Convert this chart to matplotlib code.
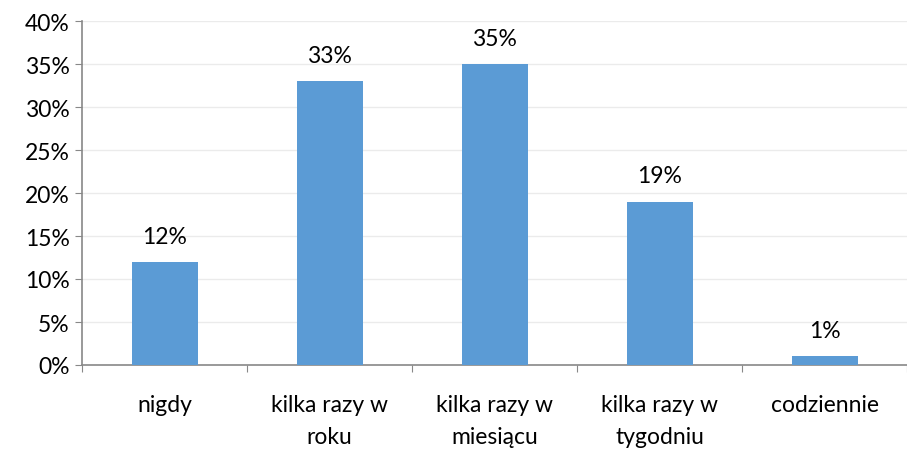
import matplotlib.pyplot as plt
import numpy as np

categories = ['nigdy', 'kilka razy w\nroku', 'kilka razy w\nmiesiącu', 'kilka razy w\ntygodniu', 'codziennie']
values = [12, 33, 35, 19, 1]
yticks = [0, 5, 10, 15, 20, 25, 30, 35, 40]

plt.rcParams['font.family'] = ['Lato', 'DejaVu Sans']
fs = 16.5

fig = plt.figure(figsize=(9.07, 4.52), dpi=100)
ax = fig.add_axes([82 / 907, 1 - 366 / 452, 825 / 907, 344 / 452])

x = np.arange(len(categories))
ax.bar(x, values, width=0.4, color='#5B9BD5', zorder=3)

for xi, v in zip(x, values):
    ax.annotate(f'{v}%', (xi, v), xytext=(0, 11), textcoords='offset points',
                ha='center', va='bottom', fontsize=fs, color='#000000')

ax.set_xlim(-0.5, len(categories) - 0.5)
ax.set_ylim(0, 40)
ax.set_yticks(yticks)
ax.set_yticklabels([f'{t}%' for t in yticks], fontsize=fs)
ax.yaxis.grid(True, color='#EBEBEB', lw=1, zorder=0)

# category labels between boundary ticks
ax.set_xticks(np.arange(len(categories) + 1) - 0.5)
ax.set_xticklabels([])
ax.set_xticks(x, minor=True)
ax.set_xticklabels(categories, minor=True, fontsize=fs, linespacing=1.65)
ax.tick_params(axis='x', which='minor', length=0, pad=21)
ax.tick_params(axis='x', which='major', length=5, color='#888888', direction='out')
ax.tick_params(axis='y', length=5, color='#888888', pad=4)

for s in ['top', 'right']:
    ax.spines[s].set_visible(False)
for s in ['left', 'bottom']:
    ax.spines[s].set_color('#888888')
    ax.spines[s].set_linewidth(1.2)

fig.savefig('out.png', dpi=100)
